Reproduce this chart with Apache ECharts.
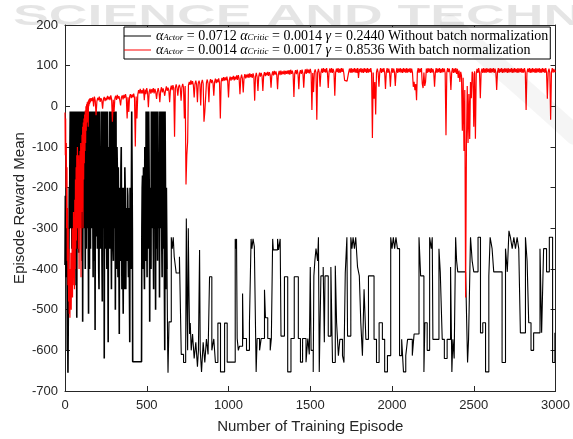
<!DOCTYPE html>
<html><head><meta charset="utf-8">
<script src="https://cdn.jsdelivr.net/npm/echarts@6/dist/echarts.min.js"></script>
<style>html,body{margin:0;padding:0;background:#fff}#c{width:573px;height:439px}</style>
</head><body><div id="c"></div>
<script>
// ---------- data ----------
const xName = 'Number of Training Episode';
const yName = 'Episode Reward Mean';
const xMin = 0, xMax = 3000, xStep = 500;
const yMin = -700, yMax = 200, yStep = 100;
const seriesNames = ['noBN', 'BN'];
const legendTexts = {
  noBN: '{i|α}{s|Actor} = 0.0712 {i|α}{s|Critic} = 0.0014 {i|γ} = 0.2440 Without batch normalization',
  BN:   '{i|α}{s|Actor} = 0.0014 {i|α}{s|Critic} = 0.0017 {i|γ} = 0.8536 With batch normalization'
};

// black: dense early part, one value every 2 episodes from 0 to 624
const blackDenseStep = 2;
const blackDenseY = [
  -390,-220,-270,-420,-400,-250,-330,-600,-500,-655,-655,-400,-350,-200,-300,-100,
  -13,-250,-300,-13,-150,-350,-13,-200,-330,-13,-200,-380,-13,-250,-440,-13,
  -250,-13,-13,-300,-520,-13,-200,-350,-13,-150,-360,-13,-100,-280,-13,-200,
  -280,-13,-13,-350,-380,-13,-530,-150,-13,-300,-250,-13,-13,-200,-400,-13,
  -100,-350,-13,-200,-300,-13,-13,-280,-510,-13,-200,-400,-13,-150,-350,-13,
  -13,-300,-280,-13,-13,-250,-420,-13,-150,-380,-13,-200,-550,-13,-13,-320,
  -300,-13,-13,-350,-250,-13,-13,-400,-450,-13,-13,-300,-350,-150,-200,-13,
  -13,-380,-480,-13,-13,-250,-300,-13,-620,-200,-13,-350,-250,-13,-13,-300,
  -400,-13,-13,-300,-580,-200,-100,-350,-13,-250,-350,-13,-13,-300,-450,-13,
  -200,-13,-13,-350,-380,-13,-13,-250,-300,-13,-500,-200,-13,-350,-400,-100,
  -150,-350,-420,-150,-250,-400,-560,-200,-200,-350,-380,-150,-100,-300,-450,-200,
  -250,-400,-510,-200,-300,-450,-400,-150,-200,-380,-450,-250,-280,-350,-380,-200,
  -220,-350,-420,-250,-300,-450,-580,-200,-250,-350,-400,-200,-13,-150,-300,-628,
  -628,-628,-628,-628,-628,-628,-628,-628,-628,-628,-628,-628,-628,-628,
  -628,-628,-628,-628,-628,-628,-628,-628,-628,-628,-628,-628,-628,
  -300,-200,-170,-350,-400,-150,-250,-380,-450,-100,-200,-350,-380,-13,-150,-300,
  -420,-13,-100,-300,-350,-13,-13,-250,-530,-200,-200,-350,-400,-13,-13,-250,
  -300,-13,-13,-350,-450,-13,-150,-300,-13,-200,-500,-13,-250,-350,-13,-200,
  -380,-13,-13,-250,-300,-150,-470,-13,-13,-300,-250,-13,-13,-350,-420,-13,
  -13,-250,-350,-13,-200,-450,-600,-13,-13,-300,-450,-200,-300,-400
];
// black: staircase part, [episode where level starts, level]
const blackSteps = [
  [628,-600],[630,-655],[636,-530],[650,-322],[656,-350],[662,-322],[668,-370],[680,-410],[700,-370],[711,-610],
  [725,-630],[738,-600],[742,-276],[746,-480],[750,-600],[754,-300],[758,-450],[762,-560],[766,-533],[772,-600],
  [780,-560],[790,-620],[800,-580],[810,-640],[816,-600],[823,-353],[827,-600],[835,-653],[845,-580],[855,-630],
  [865,-572],[875,-610],[884,-419],[898,-600],[910,-572],[920,-630],[935,-533],[951,-653],[976,-533],[992,-629],
  [1041,-326],[1045,-350],[1049,-326],[1053,-571],[1060,-600],[1067,-590],[1086,-460],[1090,-571],[1110,-600],[1128,-533],
  [1138,-326],[1143,-350],[1150,-326],[1158,-345],[1169,-653],[1175,-571],[1190,-600],[1200,-571],[1220,-451],[1226,-520],
  [1240,-571],[1255,-600],[1262,-571],[1270,-326],[1274,-353],[1300,-326],[1306,-353],[1316,-326],[1321,-565],[1342,-419],
  [1362,-653],[1382,-571],[1402,-419],[1427,-571],[1440,-629],[1453,-571],[1474,-629],[1485,-571],[1494,-610],[1500,-395],
  [1505,-600],[1518,-653],[1522,-417],[1528,-380],[1535,-350],[1545,-380],[1550,-322],[1555,-653],[1565,-417],[1579,-395],
  [1586,-580],[1590,-417],[1610,-565],[1626,-395],[1636,-630],[1653,-392],[1661,-532],[1672,-613],[1681,-573],[1697,-613],
  [1706,-630],[1714,-410],[1724,-322],[1728,-565],[1748,-322],[1755,-350],[1762,-322],[1770,-350],[1778,-322],[1789,-395],
  [1800,-417],[1809,-532],[1819,-613],[1829,-450],[1840,-573],[1856,-417],[1890,-573],[1905,-630],[1921,-532],[1941,-573],
  [1955,-653],[1972,-613],[1992,-322],[2000,-350],[2008,-322],[2016,-350],[2024,-322],[2033,-350],[2046,-613],[2059,-573],
  [2070,-653],[2084,-613],[2095,-573],[2124,-613],[2135,-560],[2165,-322],[2175,-417],[2195,-653],[2201,-532],[2215,-600],
  [2230,-322],[2240,-350],[2246,-322],[2250,-573],[2287,-350],[2295,-407],[2307,-573],[2320,-620],[2337,-573],[2358,-395],
  [2366,-653],[2372,-573],[2380,-620],[2389,-322],[2395,-380],[2402,-407],[2450,-407],[2462,-630],[2468,-573],[2480,-322],
  [2485,-350],[2490,-380],[2500,-407],[2526,-322],[2541,-557],[2555,-532],[2572,-653],[2592,-417],[2600,-322],[2612,-350],
  [2622,-407],[2673,-630],[2694,-350],[2705,-407],[2715,-306],[2724,-322],[2735,-350],[2745,-322],[2755,-350],[2765,-322],
  [2775,-350],[2785,-557],[2816,-322],[2826,-380],[2836,-532],[2850,-600],[2866,-557],[2905,-350],[2915,-557],[2927,-350],
  [2945,-407],[2962,-322],[2982,-630],[2996,-557]
];

// red: early part [episode, value]
const redEarly = [
  [0,-15],[2,-120],[4,-30],[6,-200],[8,-90],[10,-300],[12,-150],[14,-380],[16,-250],[18,-440],
  [20,-300],[22,-480],[24,-350],[26,-510],[28,-400],[30,-520],[32,-420],[34,-490],[36,-360],[38,-500],
  [40,-380],[42,-460],[44,-300],[46,-470],[48,-330],[50,-440],[52,-260],[54,-420],[56,-300],[58,-450],
  [60,-230],[62,-400],[64,-180],[66,-350],[68,-150],[70,-330],[72,-120],[74,-300],[76,-100],[78,-280],
  [80,-130],[82,-350],[84,-120],[86,-400],[88,-160],[90,-300],[92,-110],[94,-250],[96,-90],[98,-420],
  [100,-100],[102,-260],[104,-70],[106,-220],[108,-50],[110,-300],[112,-40],[114,-180],[116,-30],[118,-140],
  [120,-20],[122,-110],[124,-10],[126,-90],[128,0],[130,-60],[132,5],[134,-40],[136,10],[138,-20],
  [140,12],[142,-50],[144,15],[146,0],[148,18],[150,5],[152,20],[155,10]
];
// red: main part, one value every 5 episodes from 160 to 3000
const redMainStart = 160, redMainStep = 5;
const redMainY = [
  20,13,22,0,24,14,-22,12,21,15,24,11,20,14,-6,18,23,13,21,15,
  26,17,24,15,27,18,-38,16,-14,20,26,16,28,19,25,15,2,22,27,17,
  28,20,30,21,-30,22,-14,24,30,20,29,22,31,21,-99,24,-30,28,40,32,
  43,31,40,32,44,15,41,30,45,33,-2,36,43,31,42,34,45,32,43,35,
  18,36,45,35,10,38,47,34,44,36,26,40,49,38,46,39,10,42,51,40,
  52,44,-75,46,54,45,26,48,53,44,14,47,55,46,-30,50,-192,-120,-87,52,
  60,53,64,54,62,52,22,55,63,53,10,57,63,54,2,58,65,55,-38,-14,
  -14,58,66,56,10,59,67,57,65,58,26,60,68,57,66,59,69,58,-30,60,
  70,62,72,63,71,64,73,62,22,65,73,63,72,66,75,64,73,66,76,65,
  77,68,30,69,78,68,34,70,79,69,78,71,80,70,81,72,79,70,81,73,
  14,73,82,72,38,74,83,73,82,75,38,76,84,74,83,76,85,75,84,77,
  46,77,86,76,87,78,86,77,42,79,87,77,88,78,86,79,88,78,87,80,
  88,79,89,78,90,80,88,79,23,81,89,79,90,80,42,82,89,80,90,81,
  46,81,91,80,92,82,90,81,92,83,-9,82,35,84,91,82,-33,83,92,82,
  48,83,93,82,94,84,92,83,94,82,45,85,93,83,94,82,92,84,26,83,
  93,84,94,82,92,83,94,85,93,82,64,60,68,62,64,84,93,83,94,82,
  92,84,94,83,93,82,94,70,92,84,94,83,92,82,94,84,93,82,94,83,
  92,84,94,82,-78,83,19,60,-20,84,93,83,48,84,94,82,93,84,94,83,
  43,84,94,82,93,83,48,84,94,82,93,84,50,83,94,82,93,84,94,83,
  92,82,94,84,93,82,94,83,92,84,94,82,93,83,48,60,40,55,15,84,
  94,82,93,84,94,55,45,83,50,60,93,82,94,84,93,82,94,83,92,84,
  48,83,94,82,93,84,94,82,92,83,94,84,93,82,-71,83,94,84,93,82,
  40,84,94,82,93,83,94,80,92,70,88,60,85,75,-60,70,-110,40,-470,-100,
  50,-90,30,-80,60,20,85,80,-50,86,-80,80,92,82,94,83,20,84,93,82,
  94,83,93,82,94,84,92,83,94,82,93,84,94,82,93,83,40,84,94,82,
  93,84,94,82,92,83,94,84,93,82,94,83,92,84,94,82,93,83,94,84,
  92,82,94,83,93,84,94,82,92,83,94,84,-9,82,93,84,94,82,93,83,
  94,84,92,82,94,83,93,84,94,82,92,83,94,84,93,82,94,83,19,84,
  93,82,-33,84,94,83,92,84,88
];

// ---------- build series data ----------
const blackDense = blackDenseY.map((v, i) => [i * blackDenseStep, v]);
const last = blackDense[blackDense.length - 1];
const blackStair = [last.slice()];
let prev = last[1];
blackSteps.forEach(([x, y]) => { blackStair.push([x, prev]); blackStair.push([x, y]); prev = y; });
blackStair.push([xMax, prev]);
const redData = redEarly.concat(redMainY.map((v, i) => [redMainStart + i * redMainStep, v]));

const axisColor = '#262626';
const fontSans = 'Liberation Sans, Arial, sans-serif';
const fontSerif = 'Liberation Serif, Times New Roman, serif';

function xAx(pos, show) {
  return {
    type: 'value', min: xMin, max: xMax, interval: xStep, position: pos,
    axisLine: { show: true, onZero: false, lineStyle: { color: axisColor, width: 1 } },
    axisTick: { show: true, inside: true, length: 5, lineStyle: { color: axisColor } },
    axisLabel: { show: show, color: axisColor, fontSize: 13, fontFamily: fontSans, margin: 8,
                 formatter: v => String(v) },
    splitLine: { show: false },
    name: show ? xName : '', nameLocation: 'middle', nameGap: 28, nameMoveOverlap: false,
    nameTextStyle: { fontSize: 15, color: axisColor, fontFamily: fontSans }
  };
}
function yAx(pos, show) {
  return {
    type: 'value', min: yMin, max: yMax, interval: yStep, position: pos,
    axisLine: { show: true, onZero: false, lineStyle: { color: axisColor, width: 1 } },
    axisTick: { show: true, inside: true, length: 5, lineStyle: { color: axisColor } },
    axisLabel: { show: show, color: axisColor, fontSize: 13, fontFamily: fontSans, margin: 7,
                 formatter: v => String(v) },
    splitLine: { show: false },
    name: show ? yName : '', nameLocation: 'middle', nameGap: 38, nameRotate: 90, nameMoveOverlap: false,
    nameTextStyle: { fontSize: 15, color: axisColor, fontFamily: fontSans }
  };
}

const chart = echarts.init(document.getElementById('c'), null, { renderer: 'canvas' });
chart.setOption({
  animation: false,
  backgroundColor: '#ffffff',
  grid: { left: 65, right: 16, top: 25, bottom: 44 },
  xAxis: [xAx('bottom', true), xAx('top', false)],
  yAxis: [yAx('left', true), yAx('right', false)],
  legend: {
    orient: 'vertical', left: 124, top: 27, itemGap: 0, padding: [2, 2, 2, 0],
    backgroundColor: '#fff', borderColor: '#000', borderWidth: 1,
    icon: 'rect', itemWidth: 27, itemHeight: 1,
    data: seriesNames,
    formatter: n => legendTexts[n],
    textStyle: {
      fontFamily: fontSerif, fontSize: 14, color: '#000', lineHeight: 13,
      rich: {
        i: { fontFamily: fontSerif, fontStyle: 'italic', fontSize: 14, lineHeight: 13 },
        s: { fontFamily: fontSerif, fontStyle: 'italic', fontSize: 9, lineHeight: 13, verticalAlign: 'bottom' }
      }
    }
  },
  series: [
    { name: seriesNames[0], type: 'line', data: blackDense, symbol: 'none', showSymbol: false,
      lineStyle: { color: '#000', width: 1.6 }, itemStyle: { color: '#000' }, z: 2 },
    { name: seriesNames[0], type: 'line', data: blackStair, symbol: 'none', showSymbol: false,
      lineStyle: { color: '#000', width: 1.1 }, itemStyle: { color: '#000' }, z: 2 },
    { name: seriesNames[1], type: 'line', data: redData, symbol: 'none', showSymbol: false,
      lineStyle: { color: '#ff0000', width: 1.2 }, itemStyle: { color: '#ff0000' }, z: 3 }
  ],
  graphic: [
    { type: 'text', silent: true, z: 100, x: 13, y: 2, scaleX: 1.85,
      style: { text: 'SCIENCE AND TECHNOLOGY', font: 'bold 29px Liberation Sans', fill: 'rgba(0,0,0,0.1)' } },
    { type: 'bezierCurve', silent: true, z: 100,
      shape: { x1: 450, y1: 25, cpx1: 520, cpy1: 85, x2: 575, y2: 135 },
      style: { fill: 'none', stroke: 'rgba(0,0,0,0.04)', lineWidth: 20, lineCap: 'round' } }
  ]
});
</script></body></html>
